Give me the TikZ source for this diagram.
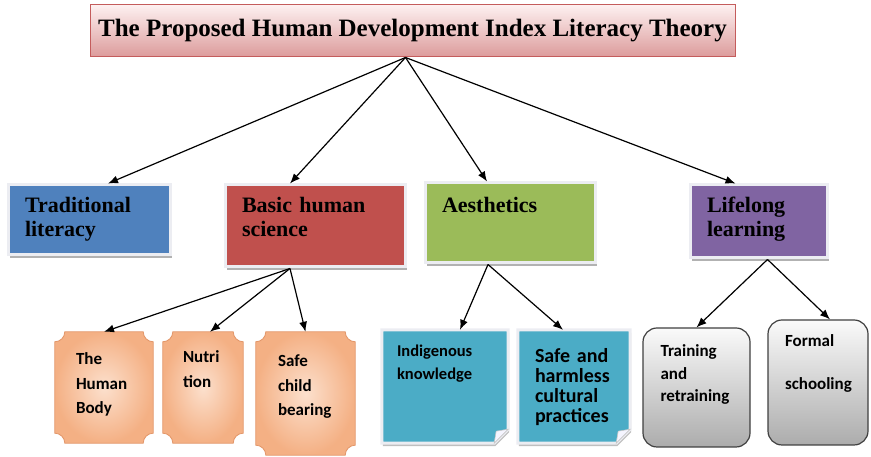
\documentclass[tikz,border=0pt]{standalone}
\usepackage{fontspec}
\setmainfont{Liberation Serif}
\newfontfamily\boxfont{Carlito}
\usetikzlibrary{arrows.meta,shadows,backgrounds}
\definecolor{tradblue}{RGB}{79,129,189}
\definecolor{basicred}{RGB}{192,80,77}
\definecolor{aesgreen}{RGB}{155,187,89}
\definecolor{lifepurple}{RGB}{128,100,162}
\definecolor{noteteal}{RGB}{75,172,198}
\definecolor{framegray}{RGB}{236,237,242}
\definecolor{peachout}{RGB}{244,176,132}
\definecolor{peachin}{RGB}{252,224,205}
\definecolor{peachedge}{RGB}{226,150,105}
\definecolor{titletop}{RGB}{253,240,240}
\definecolor{titlebot}{RGB}{220,155,155}
\definecolor{titleedge}{RGB}{196,92,92}
\tikzstyle{headbox}=[draw=titleedge, line width=1pt, top color=titletop, bottom color=titlebot, minimum width=645pt, minimum height=52pt, inner sep=0pt, font=\bfseries\fontsize{25}{29}\selectfont]
\tikzstyle{topic}=[draw=framegray, line width=3pt, drop shadow={shadow xshift=2pt, shadow yshift=-3pt, fill=gray!60, opacity=1}, align=left, inner xsep=17pt, inner ysep=0pt, text height=28pt, font=\bfseries\fontsize{22}{24}\selectfont]
\tikzstyle{plaque}=[align=left, inner xsep=21pt, inner ysep=0pt, font=\boxfont\bfseries\fontsize{17}{24.5}\selectfont]
\tikzstyle{plaqueline}=[draw=peachedge, line width=0.8pt, inner color=peachin, outer color=peachout]
\tikzstyle{note}=[align=left, inner xsep=16pt, inner ysep=0pt, font=\boxfont\bfseries]
\tikzstyle{noteline}=[fill=noteteal, draw=framegray, line width=3pt, drop shadow={shadow xshift=1pt, shadow yshift=-3pt, fill=gray!50, opacity=1}]
\tikzstyle{curl}=[fill=blue!4, draw=gray!45, line width=0.6pt]
\tikzstyle{pill}=[rounded corners=14pt, draw=gray!50!black, line width=1.2pt, top color=gray!4, bottom color=gray!65, align=left, inner xsep=17.5pt, inner ysep=0pt, font=\boxfont\bfseries\fontsize{17}{22.5}\selectfont]
\tikzstyle{link}=[-{Latex[length=10pt,width=8pt]}, line width=1.2pt]

\begin{document}
\begin{tikzpicture}[x=1pt,y=1pt]
\useasboundingbox (0,0) rectangle (871,457);
% title
\node[headbox] (title) at (412.5,426) {The Proposed Human Development Index Literacy Theory};
\coordinate (hub) at ([xshift=-7pt]title.south);
% second row
\node[topic, fill=tradblue, text width=128pt, text depth=42pt] (trad) at (89,237) {Traditional\\literacy};
\node[topic, fill=basicred, text width=146pt, text depth=54pt] (basic) at (315,231) {Basic human\\science};
\node[topic, fill=aesgreen, text width=136pt, text height=30pt, text depth=50pt] (aesth) at (510,234) {Aesthetics};
\node[topic, fill=lifepurple, text width=103pt, text depth=45pt] (life) at (758.5,235.5) {Lifelong\\learning};
% third row
\node[plaque, text width=56pt, text height=33pt, text depth=78pt] (body) at (104,69.5) {The\\Human\\Body};
\node[plaque, inner xsep=20pt, text width=40pt, text height=31pt, text depth=80pt] (nutri) at (203,69.5) {Nutri\\tion};
\node[plaque, inner xsep=22pt, text width=55pt, text height=35pt, text depth=88pt] (safechild) at (305.5,63.5) {Safe\\child\\bearing};
\node[note, inner xsep=15pt, text width=96pt, text height=27pt, text depth=86pt, font=\boxfont\bfseries\fontsize{16.5}{23}\selectfont] (indig) at (445,70.5) {Indigenous\\knowledge};
\node[note, inner xsep=17pt, text width=78pt, text height=33pt, text depth=80pt, font=\boxfont\bfseries\fontsize{20}{20}\selectfont] (safeharm) at (574,70.5) {Safe and\\harmless\\cultural\\practices};
\node[pill, text width=72pt, text height=29pt, text depth=90pt] (training) at (696.5,69.5) {Training\\and\\retraining};
\node[pill, inner xsep=17pt, text width=66pt, text height=27pt, text depth=98pt] (formal) at (818,74.5) {Formal\\[20pt]schooling};
% shapes behind the lower boxes
\begin{scope}[on background layer]
\foreach \p in {body,nutri,safechild}
  \draw[plaqueline] ([xshift=10pt]\p.north west) -- ([xshift=-10pt]\p.north east) arc[start angle=180,end angle=270,radius=10pt] -- ([yshift=10pt]\p.south east) arc[start angle=90,end angle=180,radius=10pt] -- ([xshift=10pt]\p.south west) arc[start angle=0,end angle=90,radius=10pt] -- ([yshift=-10pt]\p.north west) arc[start angle=270,end angle=360,radius=10pt] -- cycle;
\foreach \n in {indig,safeharm} {
  \draw[noteline] (\n.north west) -- (\n.north east) -- ([yshift=14pt]\n.south east) -- ([xshift=-14pt]\n.south east) -- (\n.south west) -- cycle;
  \draw[curl] ([yshift=14pt]\n.south east) -- ([xshift=-14pt]\n.south east) -- ([xshift=-12pt,yshift=12pt]\n.south east) -- cycle;
}
\end{scope}
% arrows
\draw[link] (hub) -- ([xshift=19pt]trad.north);
\draw[link] (hub) -- ([xshift=-25pt]basic.north);
\draw[link] (hub) -- ([xshift=-23pt]aesth.north);
\draw[link] (hub) -- ([xshift=-23pt]life.north);
\coordinate (basicout) at ([xshift=-25pt]basic.south);
\coordinate (aesthout) at ([xshift=-22pt]aesth.south);
\coordinate (lifeout) at ([xshift=9pt]life.south);
\draw[link] (basicout) -- (body.north);
\draw[link] (basicout) -- ([xshift=7pt]nutri.north);
\draw[link] (basicout) -- (safechild.north);
\draw[link] (aesthout) -- ([xshift=15pt]indig.north);
\draw[link] (aesthout) -- ([xshift=-11pt]safeharm.north);
\draw[link] (lifeout) -- (training.north);
\draw[link] (lifeout) -- ([xshift=12pt]formal.north);
\end{tikzpicture}
\end{document}
